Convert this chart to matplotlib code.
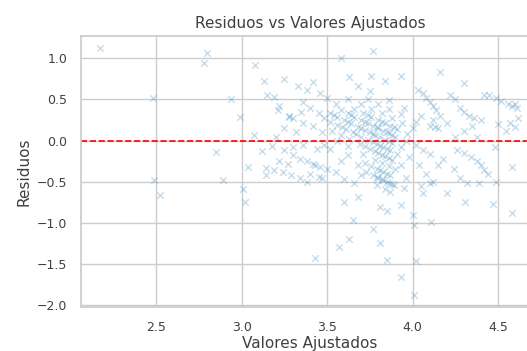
import numpy as np
import matplotlib
matplotlib.use("Agg")
import matplotlib.pyplot as plt
import seaborn as sns

# puntos aislados
ajustados_dispersos = [2.17, 2.48, 2.49, 2.52, 2.80, 2.78, 2.85, 2.89, 2.94, 2.99,
                       3.01, 3.02, 3.04, 3.08, 3.07, 3.13, 3.12, 3.14, 3.19, 3.25,
                       3.21, 3.28, 3.33, 3.42, 3.36, 3.35, 3.43, 3.58, 3.77, 3.63,
                       3.76, 3.84, 3.93, 4.16, 4.30, 4.42, 4.58, 4.58, 4.47, 4.49,
                       4.39, 4.31, 4.20, 4.11, 4.01, 4.06, 3.65, 3.57, 3.63, 3.77,
                       3.81, 3.85, 4.02, 3.93, 4.01, 3.60, 3.68, 3.81, 3.85, 3.93,
                       4.00]
residuos_dispersos = [1.12, 0.52, -0.48, -0.66, 1.06, 0.94, -0.14, -0.48, 0.50, 0.29,
                      -0.59, -0.75, -0.32, 0.92, 0.07, 0.73, -0.13, -0.42, 0.53, 0.75,
                      0.37, 0.29, 0.66, 0.71, 0.21, 0.35, -1.43, 1.00, 1.09, 0.77,
                      0.79, 0.73, 0.78, 0.84, 0.70, 0.56, -0.32, -0.88, -0.77, -0.50,
                      -0.52, -0.75, -0.64, -0.99, -1.02, -0.64, -0.96, -1.29, -1.19, -1.07,
                      -1.25, -1.45, -1.46, -1.66, -1.88, -0.75, -0.69, -0.81, -0.86, -0.78,
                      -0.90]

# zona central (franjas diagonales)
ajustados_centro = [3.52, 3.56, 3.60, 3.64, 3.68, 3.72, 3.75, 3.78, 3.81, 3.84, 3.88, 3.93,
                    3.58, 3.62, 3.66, 3.70, 3.74, 3.77, 3.80, 3.83, 3.86, 3.90, 3.96,
                    3.66, 3.71, 3.76, 3.80, 3.84, 3.87, 3.91, 3.97,
                    3.52, 3.56, 3.61, 3.65, 3.70, 3.74, 3.79, 3.83, 3.87, 3.91,
                    3.53, 3.58, 3.63, 3.69, 3.75, 3.80, 3.84, 3.88,
                    3.56, 3.62, 3.71, 3.78, 3.82, 3.86, 3.90,
                    3.62, 3.72, 3.79, 3.83, 3.87,
                    3.73, 3.77, 3.80, 3.83, 3.86, 3.89,
                    3.79, 3.84, 3.87,
                    3.70, 3.76, 3.82, 3.88, 3.94, 4.00,
                    3.74, 3.80, 3.86, 3.93, 4.02,
                    3.68, 3.75, 3.86, 3.95, 4.05,
                    3.55, 3.62, 3.58, 3.55, 3.60, 3.66, 3.70, 3.93, 3.96, 3.98,
                    3.52, 3.47, 3.43, 3.95, 3.68,
                    3.54, 3.62, 3.70, 3.77, 3.86,
                    3.64, 3.72, 3.79, 3.85, 3.88,
                    3.59, 3.67, 3.77, 3.81, 3.85,
                    3.72, 3.78, 3.82, 3.86,
                    3.76, 3.81, 3.85,
                    3.79, 3.82, 3.85, 3.88,
                    3.74, 3.82, 3.89]
residuos_centro = [0.33, 0.29, 0.25, 0.21, 0.17, 0.13, 0.10, 0.07, 0.04, 0.01, -0.03, -0.08,
                   0.37, 0.33, 0.29, 0.25, 0.21, 0.18, 0.15, 0.12, 0.09, 0.05, -0.01,
                   0.39, 0.34, 0.29, 0.25, 0.21, 0.18, 0.14, 0.08,
                   0.23, 0.19, 0.14, 0.10, 0.05, 0.01, -0.04, -0.08, -0.12, -0.16,
                   0.12, 0.07, 0.02, -0.04, -0.10, -0.15, -0.19, -0.23,
                   -0.01, -0.07, -0.16, -0.23, -0.27, -0.31, -0.35,
                   -0.17, -0.27, -0.34, -0.38, -0.42,
                   -0.38, -0.42, -0.45, -0.48, -0.51, -0.54,
                   -0.54, -0.59, -0.62,
                   0.45, 0.39, 0.33, 0.27, 0.21, 0.15,
                   0.51, 0.45, 0.39, 0.32, 0.23,
                   0.67, 0.60, 0.49, 0.40, 0.30,
                   0.45, 0.50, -0.25, -0.38, -0.47, -0.52, -0.42, -0.30, -0.45, -0.20,
                   -0.10, -0.45, -0.30, -0.58, -0.30,
                   0.31, 0.23, 0.15, 0.08, -0.01,
                   0.31, 0.23, 0.16, 0.10, 0.07,
                   0.16, 0.08, -0.02, -0.06, -0.10,
                   -0.07, -0.13, -0.17, -0.21,
                   -0.31, -0.36, -0.40,
                   -0.44, -0.47, -0.50, -0.53,
                   0.31, 0.23, 0.16]

# zona izquierda (3.1 - 3.5)
ajustados_izq = [3.15, 3.22, 3.28, 3.30, 3.36, 3.40, 3.45, 3.48, 3.38, 3.46, 3.50, 3.25,
                 3.32, 3.42, 3.47, 3.20,
                 3.18, 3.25, 3.30, 3.34, 3.38, 3.42, 3.46, 3.50,
                 3.14, 3.19, 3.24, 3.29, 3.34, 3.38,
                 3.22, 3.27, 3.40, 3.45, 3.30, 3.36, 3.44, 3.48]
residuos_izq = [0.55, 0.42, 0.30, 0.28, 0.47, 0.40, 0.33, 0.28, 0.62, 0.58, 0.52, 0.15,
                0.10, 0.18, 0.10, 0.05,
                -0.06, -0.12, -0.18, -0.22, -0.25, -0.28, -0.32, -0.35,
                -0.33, -0.36, -0.38, -0.42, -0.46, -0.50,
                -0.25, -0.28, -0.40, -0.44, -0.08, -0.05, -0.10, -0.05]

# zona derecha (4.0 - 4.62)
ajustados_der = [4.03, 4.06, 4.08, 4.10, 4.12, 4.14, 4.16, 4.12, 4.10, 4.13, 4.15,
                 4.02, 4.06, 4.10, 4.04, 4.08, 4.10, 4.12, 4.05, 4.15, 4.18,
                 4.22, 4.25, 4.28, 4.30, 4.33, 4.36, 4.40, 4.35, 4.30, 4.38, 4.25, 4.20,
                 4.26, 4.30, 4.34, 4.38, 4.40, 4.42, 4.44, 4.28, 4.32, 4.24, 4.48,
                 4.45, 4.49, 4.52, 4.56, 4.58, 4.60, 4.61, 4.57, 4.60, 4.55, 4.62, 4.50]
residuos_der = [0.62, 0.58, 0.52, 0.47, 0.42, 0.37, 0.30, 0.25, 0.18, 0.16, 0.15,
                -0.05, -0.12, -0.16, -0.30, -0.40, -0.52, -0.50, -0.55, -0.30, -0.22,
                0.55, 0.50, 0.40, 0.35, 0.30, 0.28, 0.25, 0.18, 0.12, 0.05, 0.05, 0.22,
                -0.12, -0.15, -0.20, -0.25, -0.30, -0.36, -0.40, -0.45, -0.52, -0.35, -0.08,
                0.55, 0.52, 0.48, 0.45, 0.42, 0.44, 0.40, 0.22, 0.17, 0.12, 0.28, 0.20]

sns.set_theme(style="whitegrid")
plt.rcParams['font.family'] = ['DejaVu Sans']
plt.rcParams['text.color'] = '0.25'
plt.rcParams['axes.labelcolor'] = '0.25'
plt.rcParams['xtick.color'] = '0.25'
plt.rcParams['ytick.color'] = '0.25'

fig = plt.figure(figsize=(5.27, 3.51), dpi=100)
ax = fig.add_axes([0.1537, 0.126, 0.869, 0.771])

x = ajustados_dispersos + ajustados_centro + ajustados_izq + ajustados_der
y = residuos_dispersos + residuos_centro + residuos_izq + residuos_der
ax.scatter(x, y, marker='x', color='#1f77b4', alpha=0.25, s=22, linewidths=1)

# linea de referencia
ax.axhline(0, color='red', linestyle='--', linewidth=1.2)

ax.set_xlim(2.06, 4.74)
ax.set_ylim(-2.02, 1.27)
ax.set_xticks([2.5, 3.0, 3.5, 4.0, 4.5])
ax.set_yticks([-2.0, -1.5, -1.0, -0.5, 0.0, 0.5, 1.0])
ax.tick_params(labelsize=9, pad=4)
ax.set_title('Residuos vs Valores Ajustados', fontsize=11)
ax.set_xlabel('Valores Ajustados', fontsize=11, labelpad=2)
ax.set_ylabel('Residuos', fontsize=11)

fig.savefig('out.png', dpi=100)
